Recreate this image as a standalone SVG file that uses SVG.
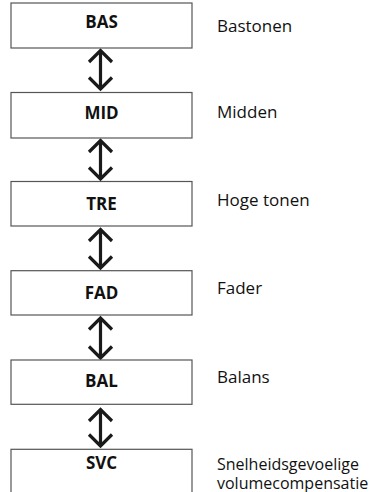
<svg xmlns="http://www.w3.org/2000/svg" width="374" height="492" viewBox="0 0 374 492">
<style>
.box{fill:#fff;stroke:#555;stroke-width:1.2}
.k{font-family:"Open Sans","Noto Sans","Liberation Sans",sans-serif;font-weight:bold;font-size:17px;fill:#111;text-anchor:middle}
.l{font-family:"Open Sans","Noto Sans","Liberation Sans",sans-serif;font-size:17px;fill:#111}
.s{font-size:16px}
.a{fill:none;stroke:#1a1a1a;stroke-width:3.2;stroke-linejoin:miter}
</style>
<rect width="374" height="492" fill="#fff"/>
<g id="connectors">
<path class="a" d="M100.5,51 V88 M89,62 L100.5,50.5 L112,62 M89,77.5 L100.5,89 L112,77.5"/>
<path class="a" d="M100.5,142 V177 M89,152 L100.5,140.5 L112,152 M89,167.5 L100.5,179 L112,167.5"/>
<path class="a" d="M100.5,231 V266 M89,241 L100.5,229.5 L112,241 M89,256.5 L100.5,268 L112,256.5"/>
<path class="a" d="M100.5,319 V356 M89,329.5 L100.5,318 L112,329.5 M89,346.5 L100.5,358 L112,346.5"/>
<path class="a" d="M100.5,411 V445 M89,421 L100.5,409.5 L112,421 M89,434.5 L100.5,446 L112,434.5"/>
</g>
<g id="bas"><rect class="box" x="11" y="3" width="181" height="45"/><text class="k" x="101.5" y="28">BAS</text><text class="l" x="217" y="32">Bastonen</text></g>
<g id="mid"><rect class="box" x="11" y="92.5" width="181" height="45.5"/><text class="k" x="101.5" y="118.5">MID</text><text class="l" x="217" y="117.5">Midden</text></g>
<g id="tre"><rect class="box" x="11" y="181.5" width="181" height="44.5"/><text class="k" x="101.5" y="210">TRE</text><text class="l" x="217" y="206">Hoge tonen</text></g>
<g id="fad"><rect class="box" x="11" y="270.7" width="181" height="44.3"/><text class="k" x="101.5" y="299">FAD</text><text class="l" x="217" y="294">Fader</text></g>
<g id="bal"><rect class="box" x="11" y="360" width="181" height="44.3"/><text class="k" x="101.5" y="387">BAL</text><text class="l" x="217" y="383">Balans</text></g>
<g id="svc"><rect class="box" x="11" y="449.3" width="181" height="50"/><text class="k" x="101.5" y="469">SVC</text><text class="l s" x="217" y="470">Snelheidsgevoelige</text><text class="l s" x="217" y="488.5">volumecompensatie</text></g>
</svg>
